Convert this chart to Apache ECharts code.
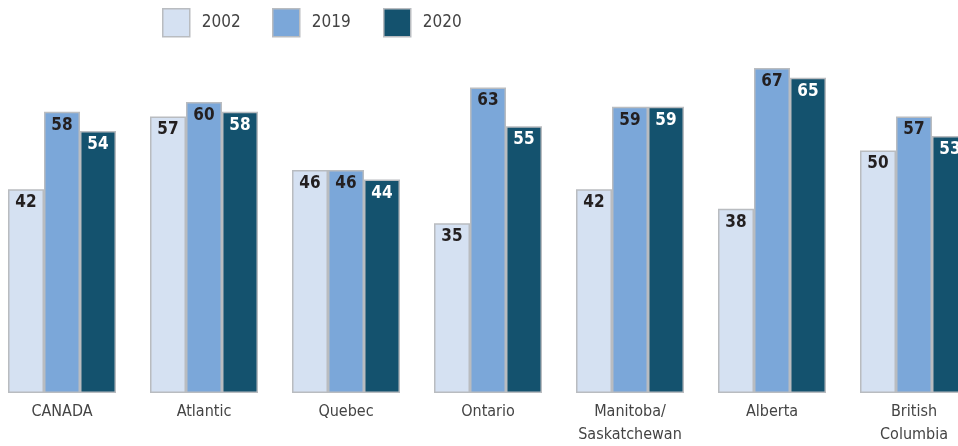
<!DOCTYPE html>
<html>
<head>
<meta charset="utf-8">
<script src="https://cdn.jsdelivr.net/npm/echarts@6/dist/echarts.min.js"></script>
<style>
  html, body { margin: 0; padding: 0; background: #fff; overflow: hidden; }
  /* chart is wider than the window: the last group is cut off at the right edge */
  #chart { width: 994px; height: 446px; margin-left: -9px; }
</style>
</head>
<body>
<div id="chart"></div>
<script>
// Regions shown along the x axis
var regions = ['CANADA', 'Atlantic', 'Quebec', 'Ontario', 'Manitoba/\nSaskatchewan', 'Alberta', 'British\nColumbia'];

// Values per year
var years = ['2002', '2019', '2020'];
var values2002 = [42, 57, 46, 35, 42, 38, 50];
var values2019 = [58, 60, 46, 63, 59, 67, 57];
var values2020 = [54, 58, 44, 55, 59, 65, 53];

var colors = ['#d5e1f2', '#7ba7d9', '#14526e'];
var labelColors = ['#231f20', '#231f20', '#ffffff'];
var font = "'DejaVu Sans Condensed', 'Liberation Sans Narrow', sans-serif";

var chart = echarts.init(document.getElementById('chart'));

function makeSeries(name, data, i) {
  return {
    name: name,
    type: 'bar',
    data: data,
    barWidth: 36,
    barGap: '0%',
    itemStyle: {
      color: colors[i],
      borderColor: '#b9bcc0',
      borderWidth: 1.5
    },
    label: {
      show: true,
      position: 'insideTop',
      distance: 5,
      color: labelColors[i],
      fontFamily: font,
      fontWeight: 'bold',
      fontSize: 17
    }
  };
}

// one legend per year so each box sits where it does in the original
var legendLeft = [171, 281, 392];
var legends = years.map(function (y, i) {
  return {
    top: 8,
    left: legendLeft[i],
    padding: 0,
    itemWidth: 27,
    itemHeight: 28,
    icon: 'rect',
    textStyle: { color: '#444', fontFamily: font, fontSize: 17, padding: [0, 0, 0, 7] },
    itemStyle: { borderColor: '#b9bcc0', borderWidth: 1.5 },
    data: [y]
  };
});

chart.setOption({
  animation: false,
  backgroundColor: '#ffffff',
  legend: legends,
  grid: {
    left: 0,
    right: 0,
    top: 5,
    bottom: 51,
    containLabel: false
  },
  xAxis: {
    type: 'category',
    data: regions,
    axisLine: { show: false },
    axisTick: { show: false },
    axisLabel: {
      color: '#444',
      fontFamily: font,
      fontSize: 16,
      lineHeight: 23,
      margin: 7,
      interval: 0
    }
  },
  yAxis: {
    type: 'value',
    min: 0,
    max: 80,
    show: false,
    splitLine: { show: false }
  },
  series: [
    makeSeries('2002', values2002, 0),
    makeSeries('2019', values2019, 1),
    makeSeries('2020', values2020, 2)
  ]
});
</script>
</body>
</html>
